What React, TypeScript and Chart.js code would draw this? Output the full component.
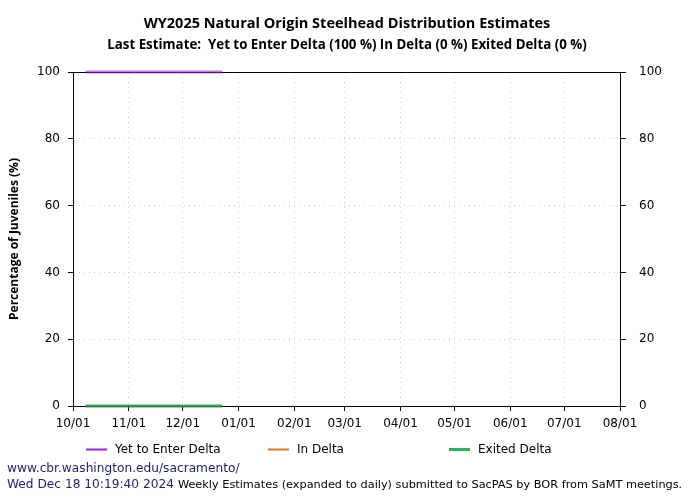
import React, { useEffect, useRef } from "react";
import { Chart, registerables } from "chart.js";

Chart.register(...registerables);

const titleText = "WY2025 Natural Origin Steelhead Distribution Estimates";
const subtitleText = "Last Estimate:  Yet to Enter Delta (100 %) In Delta (0 %) Exited Delta (0 %)";
const yAxisTitle = "Percentage of Juveniles (%)";

const axisStart = "2024-10-01";
const monthTickDates = [
  "2024-10-01", "2024-11-01", "2024-12-01", "2025-01-01", "2025-02-01", "2025-03-01",
  "2025-04-01", "2025-05-01", "2025-06-01", "2025-07-01", "2025-08-01",
];
const monthTickLabels = ["10/01", "11/01", "12/01", "01/01", "02/01", "03/01", "04/01", "05/01", "06/01", "07/01", "08/01"];

const estimateDates = [
  "2024-10-08", "2024-10-15", "2024-10-22", "2024-10-29", "2024-11-05", "2024-11-12",
  "2024-11-19", "2024-11-26", "2024-12-03", "2024-12-10", "2024-12-17", "2024-12-23",
];
const yetToEnter = [100, 100, 100, 100, 100, 100, 100, 100, 100, 100, 100, 100];
const inDelta = [0, 0, 0, 0, 0, 0, 0, 0, 0, 0, 0, 0];
const exitedDelta = [0, 0, 0, 0, 0, 0, 0, 0, 0, 0, 0, 0];

const seriesLabels = ["Yet to Enter Delta", "In Delta", "Exited Delta"];
const seriesColors = ["#9a1fd6", "#e8731c", "#2ab566"];
const lineColors = ["rgba(148,40,210,0.6)", "rgba(232,115,28,0.6)", "rgba(30,150,80,0.85)"];

const footerUrl = "www.cbr.washington.edu/sacramento/";
const footerDate = "Wed Dec 18 10:19:40 2024";
const footerNote = "Weekly Estimates (expanded to daily) submitted to SacPAS by BOR from SaMT meetings.";

const dayMs = 86400000;
const dayOffset = (d: string) => Math.round((Date.parse(d + "T00:00:00Z") - Date.parse(axisStart + "T00:00:00Z")) / dayMs);
const tickOffsets = monthTickDates.map(dayOffset);

const tickFont = { family: "DejaVu Sans", size: 12 };

const decorPlugin = {
  id: "decor",
  beforeDatasetsDraw(chart: any) {
    const { ctx, chartArea } = chart;
    ctx.save();
    ctx.strokeStyle = "#000";
    ctx.lineWidth = 1;
    ctx.strokeRect(chartArea.left + 0.5, chartArea.top + 0.5, chartArea.right - chartArea.left, chartArea.bottom - chartArea.top);
    ctx.restore();
  },
  afterDraw(chart: any) {
    const { ctx } = chart;
    ctx.save();
    ctx.fillStyle = "#000";
    ctx.textAlign = "center";
    ctx.textBaseline = "middle";
    ctx.font = "bold 14.5px 'Open Sans'";
    ctx.fillText(titleText, 347, 24);
    ctx.font = "bold 13.3px 'Open Sans'";
    ctx.fillText(subtitleText, 347, 45);

    ctx.save();
    ctx.translate(15, 239);
    ctx.rotate(-Math.PI / 2);
    ctx.font = "bold 12px 'Open Sans'";
    ctx.fillText(yAxisTitle, 0, 0);
    ctx.restore();

    // legend
    const legendX = [86, 268, 449];
    const legendW = [2, 2, 3];
    ctx.textAlign = "left";
    ctx.font = "12px 'DejaVu Sans'";
    seriesLabels.forEach((lab, i) => {
      ctx.strokeStyle = seriesColors[i];
      ctx.lineWidth = legendW[i];
      ctx.beginPath();
      ctx.moveTo(legendX[i], 449.5);
      ctx.lineTo(legendX[i] + 21, 449.5);
      ctx.stroke();
      ctx.fillStyle = "#000";
      ctx.fillText(lab, legendX[i] + 29, 450);
    });

    ctx.fillStyle = "#1c1c80";
    ctx.font = "12.2px 'DejaVu Sans'";
    ctx.fillText(footerUrl, 7, 469);
    ctx.fillText(footerDate, 7, 485);
    const w = ctx.measureText(footerDate).width;
    ctx.fillStyle = "#000";
    ctx.font = "11.3px 'DejaVu Sans'";
    ctx.fillText(footerNote, 7 + w + 4, 485);
    ctx.restore();
  },
};

export default function App() {
  const ref = useRef<HTMLCanvasElement>(null);
  useEffect(() => {
    if (!ref.current) return;
    const xs = estimateDates.map(dayOffset);
    const mk = (vals: number[]) => vals.map((v, i) => ({ x: xs[i], y: v }));
    const chart = new Chart(ref.current, {
      type: "line",
      data: {
        datasets: [
          { label: seriesLabels[2], data: mk(exitedDelta), borderColor: lineColors[2], borderWidth: 3, pointRadius: 0, clip: false, yAxisID: "y" },
          { label: seriesLabels[1], data: mk(inDelta), borderColor: lineColors[1], borderWidth: 1, pointRadius: 0, clip: false, yAxisID: "y" },
          { label: seriesLabels[0], data: mk(yetToEnter), borderColor: lineColors[0], borderWidth: 3, pointRadius: 0, clip: false, yAxisID: "y" },
        ],
      },
      options: {
        responsive: false,
        animation: false,
        layout: { padding: { top: 72, left: 0, right: 0, bottom: 0 } },
        plugins: { legend: { display: false }, title: { display: false }, tooltip: { enabled: false } },
        scales: {
          x: {
            type: "linear",
            min: 0,
            max: tickOffsets[tickOffsets.length - 1],
            afterBuildTicks: (s: any) => { s.ticks = tickOffsets.map((v) => ({ value: v })); },
            afterFit: (s: any) => { s.height = 94; },
            ticks: {
              autoSkip: false,
              maxRotation: 0,
              color: "#000",
              font: tickFont,
              padding: 6,
              callback: (v: any) => { const i = tickOffsets.indexOf(Number(v)); return i >= 0 ? monthTickLabels[i] : ""; },
            },
            grid: { color: "#cfcfcf", tickColor: "#000", tickLength: 5, tickBorderDash: [] as any },
            border: { color: "#000", dash: [1, 4] },
          },
          y: {
            position: "left",
            min: 0,
            max: 100,
            afterFit: (s: any) => { s.width = 73; },
            ticks: { stepSize: 20, color: "#000", font: tickFont, padding: 8 },
            grid: { color: "#cfcfcf", tickColor: "#000", tickLength: 5, tickBorderDash: [] as any },
            border: { color: "#000", dash: [1, 4] },
          },
          y2: {
            position: "right",
            min: 0,
            max: 100,
            afterFit: (s: any) => { s.width = 80; },
            ticks: { stepSize: 20, color: "#000", font: tickFont, padding: 13 },
            grid: { drawOnChartArea: false, tickColor: "#000", tickLength: 6 },
            border: { color: "#000" },
          },
        },
      },
      plugins: [decorPlugin],
    } as any);
    return () => chart.destroy();
  }, []);
  return (
    <canvas
      ref={ref}
      width={700}
      height={500}
      style={{ position: "fixed", left: 0, top: 0, display: "block", background: "#fff" }}
    />
  );
}
